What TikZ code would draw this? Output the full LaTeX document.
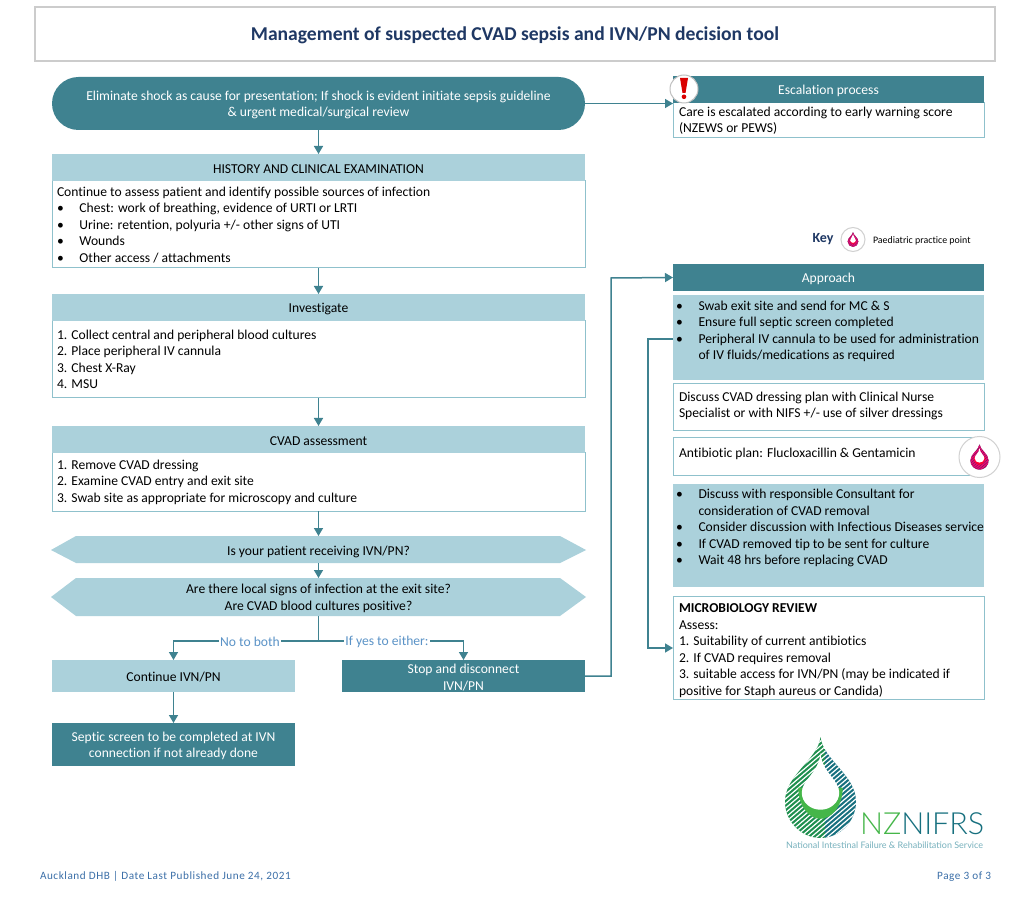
\documentclass[tikz,border=0pt]{standalone}
\usepackage{fontspec}
\setmainfont{Carlito}[Ligatures=NoCommon]
\newfontfamily\logofont{Lato Light}
\newfontfamily\tagfont{Lato}
\usetikzlibrary{arrows.meta,calc,shapes.misc}
\definecolor{teal1}{HTML}{3F8290}
\definecolor{light1}{HTML}{ABD1DB}
\definecolor{edge1}{HTML}{8FC1CC}
\definecolor{navy1}{HTML}{1F3864}
\definecolor{lab1}{HTML}{5B93C7}
\definecolor{foot1}{HTML}{3B6FA8}
\definecolor{logog}{HTML}{1E8F4E}
\definecolor{logob}{HTML}{17707F}
\definecolor{logol}{HTML}{45B649}
\newcommand{\bx}[7][]{%
  \pgfmathsetmacro{\cxx}{(#3+#5)/2}\pgfmathsetmacro{\cyy}{(#4+#6)/2}%
  \pgfmathsetmacro{\wdd}{#5-#3}\pgfmathsetmacro{\htt}{#6-#4}%
  \node[#1,minimum width=\wdd pt,minimum height=\htt pt] (#2) at (\cxx,\cyy) {};
  \node[#1,fill=none,draw=none,rectangle] (#2t) at (\cxx,\cyy+1.5) {#7};}
\newcommand{\bl}[1]{\makebox[22.5pt][l]{•}#1}
\newcommand{\blc}[1]{\hspace*{22.5pt}#1}
\newcommand{\droppath}{(0,-1) .. controls (0.05,-0.55) and (0.72,-0.25) .. (0.72,0.28) .. controls (0.72,0.68) and (0.38,1) .. (0,1) .. controls (-0.38,1) and (-0.72,0.68) .. (-0.72,0.28) .. controls (-0.72,-0.25) and (-0.05,-0.55) .. (0,-1) -- cycle}
\newcommand{\holepath}{(0,-0.68) .. controls (0.03,-0.3) and (0.38,-0.15) .. (0.38,0.1) .. controls (0.38,0.3) and (0.2,0.44) .. (0,0.44) .. controls (-0.2,0.44) and (-0.38,0.3) .. (-0.38,0.1) .. controls (-0.38,-0.15) and (-0.03,-0.3) .. (0,-0.68) -- cycle}
\newcommand{\crescentpath}{(-0.45,0) .. controls (-0.45,0.38) and (-0.22,0.62) .. (0,0.62) .. controls (0.22,0.62) and (0.45,0.38) .. (0.45,0) -- cycle}
\newcommand{\kid}[4]{% name x y radius
  \node[circle,fill=white,draw=black!18,line width=1pt,minimum size=#4*2pt,inner sep=0pt] (#1) at (#2,#3) {};
  \begin{scope}[shift={(#2,#3)},x=#4*0.62pt,y=-#4*0.62pt]
    \begin{scope}
      \clip \droppath;
      \fill[navy1!70!purple] (-1,-1) rectangle (1,1);
      \foreach \k in {-2,-1.75,...,2}{\draw[line width=#4*0.07pt,magenta!75!red] (\k-1.2,1) -- (\k+1.2,-1);}
    \end{scope}
    \fill[red!80!magenta] \crescentpath;
    \fill[white] \holepath;
  \end{scope}}
\tikzset{
  every node/.style={font=\fontsize{13.6}{16.5}\selectfont,inner sep=0pt,outer sep=0pt},
  dark/.style={fill=teal1,text=white,align=center},
  light/.style={fill=light1,text=black,align=center},
  white box/.style={fill=white,draw=edge1,line width=1pt},
  txt/.style={anchor=north west,align=left,text=black},
  link/.style={draw=teal1,line width=1.5pt},
  arrow/.style={link,-{Triangle[length=8pt,width=9pt,fill=teal1]}},
  branch/.style={text=lab1,fill=white,inner xsep=1pt,inner ysep=2pt}
}
\begin{document}
\begin{tikzpicture}[x=1pt,y=-1pt]
\useasboundingbox (0,0) rectangle (1029,917);
\fill[white] (0,0) rectangle (1029,917);
% title
\bx[draw=black!20,line width=1.2pt,fill=white,text=navy1,font=\fontsize{19.6}{24}\bfseries\selectfont]{title}{35}{7}{995}{61}{Management of suspected CVAD sepsis and IVN/PN decision tool}
% left column
\bx[dark,rounded rectangle]{shock}{52}{77}{585}{130}{Eliminate shock as cause for presentation; If shock is evident initiate sepsis guideline\\\& urgent medical/surgical review}
\bx[white box]{hbody}{52}{181}{585}{268}{}
\bx[light]{hist}{52}{154}{585}{181}{HISTORY AND CLINICAL EXAMINATION}
\node[txt] (htxt) at (57,187) {Continue to assess patient and identify possible sources of infection\\\bl{Chest: work of breathing, evidence of URTI or LRTI}\\\bl{Urine: retention, polyuria +/- other signs of UTI}\\\bl{Wounds}\\\bl{Other access / attachments}};
\bx[white box]{ibody}{52}{321}{585}{398}{}
\bx[light]{inv}{52}{294}{585}{321}{Investigate}
\node[txt] (itxt) at (57,330) {1. Collect central and peripheral blood cultures\\2. Place peripheral IV cannula\\3. Chest X-Ray\\4. MSU};
\bx[white box]{cbody}{52}{453}{585}{511}{}
\bx[light]{cvad}{52}{426}{585}{453}{CVAD assessment}
\node[txt] (ctxt) at (57,460) {1. Remove CVAD dressing\\2. Examine CVAD entry and exit site\\3. Swab site as appropriate for microscopy and culture};
% hexagons
\fill[light1] (51,550) -- (76,536) -- (560,536) -- (586,550) -- (560,563) -- (76,563) -- cycle;
\node (q1) at (318.5,551.5) {Is your patient receiving IVN/PN?};
\coordinate (q1t) at (318.5,536); \coordinate (q1b) at (318.5,563);
\fill[light1] (51,597) -- (76,578) -- (560,578) -- (586,597) -- (560,616) -- (76,616) -- cycle;
\node[align=center] (q2) at (318.5,598.5) {Are there local signs of infection at the exit site?\\Are CVAD blood cultures positive?};
\coordinate (q2t) at (318.5,578); \coordinate (q2b) at (318.5,616);
\bx[light]{cont}{52}{660}{295}{692}{Continue IVN/PN}
\bx[dark]{stop}{342}{660}{585}{692}{Stop and disconnect\\IVN/PN}
\bx[dark]{sept}{52}{723}{295}{766}{Septic screen to be completed at IVN\\connection if not already done}
% right column
\bx[white box]{ebody}{673}{103}{984}{138}{}
\bx[dark]{esc}{673}{76}{984}{103}{Escalation process}
\node[txt] (etxt) at (679,107) {Care is escalated according to early warning score\\(NZEWS or PEWS)};
\bx[dark]{appr}{673}{264}{984}{291}{Approach}
\bx[fill=light1]{ap1}{673}{295}{984}{380}{}
\node[txt] (ap1t) at (676,301) {\bl{Swab exit site and send for MC \& S}\\\bl{Ensure full septic screen completed}\\\bl{Peripheral IV cannula to be used for administration}\\\blc{of IV fluids/medications as required}};
\bx[white box]{disc}{673}{384}{984}{431}{}
\node[txt] (disct) at (679,392) {Discuss CVAD dressing plan with Clinical Nurse\\Specialist or with NIFS +/- use of silver dressings};
\bx[white box]{anti}{673}{438}{984}{475}{}
\node[txt] (antit) at (679,448) {Antibiotic plan: Flucloxacillin \& Gentamicin};
\bx[fill=light1]{ap2}{673}{484}{984}{587}{}
\node[txt] (ap2t) at (676,489.5) {\bl{Discuss with responsible Consultant  for}\\\blc{consideration of CVAD removal}\\\bl{Consider discussion with Infectious Diseases service}\\\bl{If CVAD removed tip to be sent for culture}\\\bl{Wait 48 hrs before replacing CVAD}};
\bx[white box]{micro}{673}{596}{984}{699}{}
\node[txt] (microt) at (679,604) {\textbf{MICROBIOLOGY REVIEW}\\Assess:\\1. Suitability of current antibiotics\\2. If CVAD requires removal\\3. suitable access for IVN/PN (may be indicated if\\positive for Staph aureus or Candida)};
% connectors
\draw[arrow] (shock.south) -- (hist.north);
\draw[arrow] (hbody.south) -- (inv.north);
\draw[arrow] (ibody.south) -- (cvad.north);
\draw[arrow] (cbody.south) -- (q1t);
\draw[arrow] (q1b) -- (q2t);
\draw[link] (q2b) -- ++(0,25) coordinate (fork);
\draw[arrow] (fork) -| (cont.north);
\draw[arrow] (fork) -| (stop.north);
\node[branch] (no) at (250,642) {No to both};
\node[branch] (yes) at (387,642) {If yes to either:};
\draw[arrow] (cont.south) -- (sept.north);
\draw[arrow] (shock.east) -- (shock.east -| esc.west);
\coordinate (up) at (611,278);
\draw[arrow] (stop.east) -| (up) -- (appr.west);
\coordinate (ap1l) at (673,339); \coordinate (down) at (648,339); \coordinate (mid) at (648,648); \coordinate (mr) at (673,648);
\draw[arrow] (ap1l) -- (down) -- (mid) -- (mr);
% alert icon
\node[circle,fill=white,draw=black!25,line width=1pt,minimum size=28pt] (alert) at (684,89) {};
\fill[red!85!black] (680,78) -- (688,78) -- (685.5,93) -- (682.5,93) -- cycle;
\fill[red!85!black] (684,96.8) circle (2.3);
% key
\node[font=\fontsize{14}{16}\bfseries\selectfont,text=navy1] (key) at (823,239.5) {Key};
\kid{kida}{853}{239.5}{12}
\node[font=\fontsize{9.9}{11}\selectfont,anchor=west] (kp) at (873,240.5) {Paediatric practice point};
\kid{kidb}{979.5}{457}{20.5}
% logo
\begin{scope}[shift={(820.5,787.5)},x=49.3pt,y=-50.5pt]
  \begin{scope}
    \clip \droppath;
    \fill[logog] (-1,-1) rectangle (0.1,1);
    \fill[logob] (0.1,-1) rectangle (1,1);
    \foreach \k in {-2.2,-2.09,...,2.2}{\draw[white,line width=1.2pt] (\k-1.2,1) -- (\k+1.2,-1);}
  \end{scope}
  \fill[logol] \crescentpath;
  \fill[white] \holepath;
\end{scope}
\node[font=\logofont\fontsize{30.5}{34}\selectfont,anchor=west] (nz) at (860,824) {\textcolor{logol}{NZ}\textcolor{logob}{NIFRS}};
\node[font=\tagfont\fontsize{9}{10}\selectfont,text=edge1!80!logob,anchor=east] (tag) at (983,845) {National Intestinal Failure \& Rehabilitation Service};
% footer
\node[font=\fontsize{11.2}{12}\selectfont,text=foot1,anchor=west] (fl) at (40,876.5) {\addfontfeatures{LetterSpace=5}Auckland DHB | Date Last Published June 24, 2021};
\node[font=\fontsize{11.2}{12}\selectfont,text=foot1,anchor=east] (fr) at (991,876.5) {\addfontfeatures{LetterSpace=5}Page 3 of 3};
\end{tikzpicture}
\end{document}
